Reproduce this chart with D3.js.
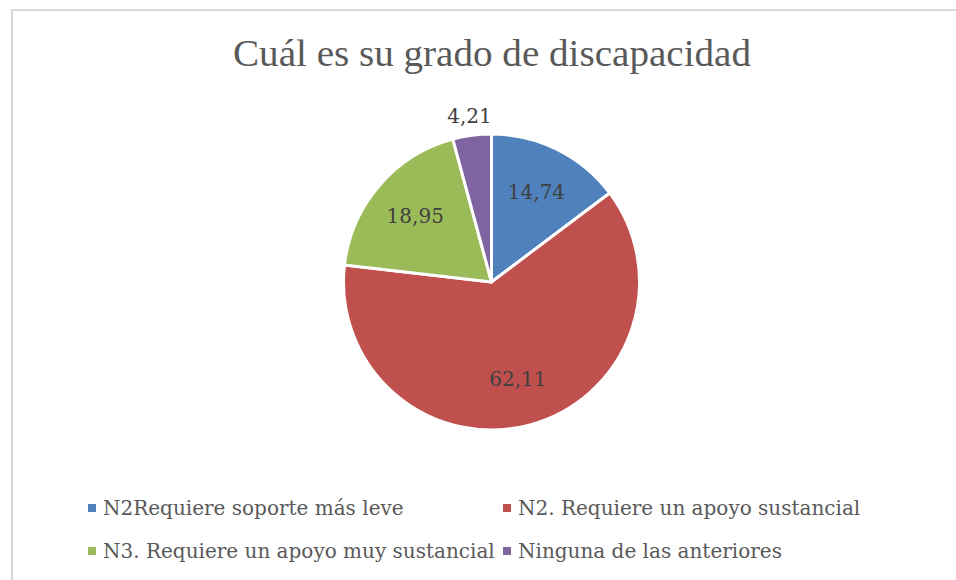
<!DOCTYPE html>
<html>
<head>
<meta charset="utf-8">
<script src="https://cdn.jsdelivr.net/npm/d3@7"></script>
<style>
  body { margin: 0; background: #fff; }
  .vis { width: 956px; height: 580px; }
</style>
</head>
<body>
<div class="vis"></div>
<script>
// chart data
var categories = [
	"N2Requiere soporte más leve",
	"N2. Requiere un apoyo sustancial",
	"N3. Requiere un apoyo muy sustancial",
	"Ninguna de las anteriores"
];
var values = [14.74, 62.11, 18.95, 4.21];
var labels = ["14,74", "62,11", "18,95", "4,21"];
var sliceColours = ["#4f81bd", "#c0504d", "#9bbb59", "#8064a2"];

var width = 956, height = 580;

var svg = d3.select(".vis").append("svg")
	.attr("width", width)
	.attr("height", height);

// chart frame (right and bottom edges fall outside the picture)
svg.append("rect")
	.attr("x", 12)
	.attr("y", 10)
	.attr("width", 1000)
	.attr("height", 1000)
	.attr("fill", "none")
	.attr("stroke", "#d9d9d9")
	.attr("stroke-width", 2);

// title
svg.append("text")
	.attr("x", 492)
	.attr("y", 66)
	.attr("text-anchor", "middle")
	.attr("font-family", "Liberation Serif")
	.attr("font-size", 38)
	.attr("fill", "#595959")
	.attr("textLength", 518)
	.attr("lengthAdjust", "spacingAndGlyphs")
	.text("Cuál es su grado de discapacidad");

// pie
var cx = 491.5, cy = 282, radius = 148;

var pie = d3.pie().sort(null).value(function(d) { return d; });
var arc = d3.arc().innerRadius(0).outerRadius(radius);

var pieGroup = svg.append("g").attr("transform", "translate(" + cx + "," + cy + ")");
var arcs = pie(values);

pieGroup.selectAll("path")
	.data(arcs)
	.enter().append("path")
	.attr("d", arc)
	.attr("fill", function(d, i) { return sliceColours[i]; })
	.attr("stroke", "#fff")
	.attr("stroke-width", 3)
	.attr("stroke-linejoin", "round");

// label positions: inside for big slices, outside for the small one
var labelArc = d3.arc().innerRadius(radius * 0.68).outerRadius(radius * 0.68);
var outerArc = d3.arc().innerRadius(radius * 1.13).outerRadius(radius * 1.13);

pieGroup.selectAll("text")
	.data(arcs)
	.enter().append("text")
	.attr("transform", function(d, i) {
		var p = (i === 3 ? outerArc : labelArc).centroid(d);
		return "translate(" + p[0] + "," + p[1] + ")";
	})
	.attr("text-anchor", "middle")
	.attr("dy", "0.35em")
	.attr("font-family", "DejaVu Serif")
	.attr("font-size", 20)
	.attr("fill", "#404040")
	.text(function(d, i) { return labels[i]; });

// legend
var legendX = [88, 503];
var legendY = [508, 551];

var legend = svg.selectAll(".legendItem")
	.data(categories)
	.enter().append("g")
	.attr("class", "legendItem")
	.attr("transform", function(d, i) {
		return "translate(" + legendX[i % 2] + "," + legendY[Math.floor(i / 2)] + ")";
	});

legend.append("rect")
	.attr("x", 0)
	.attr("y", -4)
	.attr("width", 8)
	.attr("height", 8)
	.attr("fill", function(d, i) { return sliceColours[i]; });

legend.append("text")
	.attr("x", 15)
	.attr("dy", "0.35em")
	.attr("font-family", "DejaVu Serif")
	.attr("font-size", 20)
	.attr("fill", "#595959")
	.text(function(d) { return d; });
</script>
</body>
</html>
